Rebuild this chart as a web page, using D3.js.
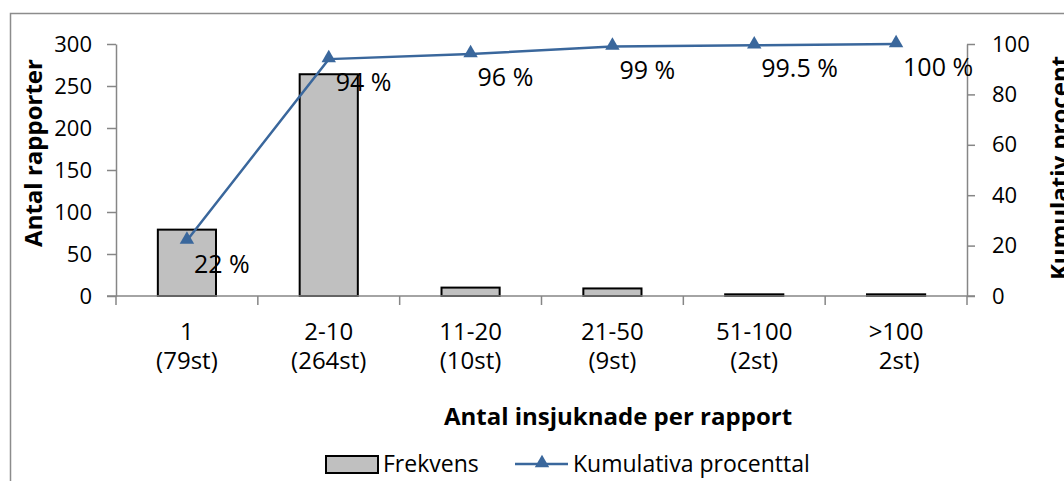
<!DOCTYPE html>
<html lang="sv">
<head>
<meta charset="utf-8">
<script src="https://cdnjs.cloudflare.com/ajax/libs/d3/7.8.5/d3.min.js"></script>
<style>
    body { margin: 0; background: #fff; }
    svg text { font-family: "Open Sans", Lato, sans-serif; fill: #000; }
    .axis path, .axis line { stroke: #868686; stroke-width: 1.5; }
    .axis text { font-size: 22px; }
    .title { font-size: 24px; font-weight: bold; }
</style>
</head>
<body>
<svg id="chart" width="1064" height="481"></svg>
<script>
// data
const categories = ["1|(79st)", "2-10|(264st)", "11-20|(10st)", "21-50|(9st)", "51-100|(2st)", ">100| 2st)"];
const frekvens = [79, 264, 10, 9, 2, 2];
const kumulativ = [22, 94, 96, 99, 99.5, 100];
const kumLabels = ["22 %", "94 %", "96 %", "99 %", "99.5 %", "100 %"];
const leftTicks = [0, 50, 100, 150, 200, 250, 300];
const rightTicks = [0, 20, 40, 60, 80, 100];

const svg = d3.select("#chart");
const margin = {left: 116, right: 97, top: 44, bottom: 185};
const W = 1064, H = 481;
const blue = "#3a679c";

// outer frame (clipped at the right and bottom like the original)
svg.append("path")
    .attr("d", "M10.5,481 V13.5 H1064")
    .attr("fill", "none")
    .attr("stroke", "#8c8c8c")
    .attr("stroke-width", 1.5);

const x = d3.scaleBand()
    .domain(categories)
    .range([margin.left, W - margin.right])
    .paddingInner(0.59)
    .paddingOuter(0.295);
const xStep = x.step();
const xc = d => x(d) + x.bandwidth() / 2;

const y = d3.scaleLinear().domain([0, 300]).range([H - margin.bottom, margin.top]);
const y2 = d3.scaleLinear().domain([0, 100]).range([H - margin.bottom, margin.top]);

// bars
svg.selectAll(".bar")
    .data(frekvens)
    .enter().append("rect")
    .attr("class", "bar")
    .attr("x", (d, i) => x(categories[i]))
    .attr("width", x.bandwidth())
    .attr("y", d => y(d))
    .attr("height", d => y(0) - y(d))
    .attr("fill", "#c0c0c0")
    .attr("stroke", "#000")
    .attr("stroke-width", 2);

// left axis
svg.append("g")
    .attr("class", "axis")
    .attr("transform", "translate(" + margin.left + ",0)")
    .call(d3.axisLeft(y).tickValues(leftTicks).tickSize(9).tickPadding(15).tickSizeOuter(0));

// right axis
svg.append("g")
    .attr("class", "axis")
    .attr("transform", "translate(" + (W - margin.right) + ",0)")
    .call(d3.axisRight(y2).tickValues(rightTicks).tickSize(8).tickPadding(17).tickSizeOuter(0));

// x axis: ticks sit between categories, two-line labels
const gx = svg.append("g")
    .attr("class", "axis")
    .attr("transform", "translate(0," + y(0) + ")");
gx.append("line")
    .attr("x1", margin.left - 9).attr("x2", W - margin.right + 8)
    .attr("y1", 0).attr("y2", 0);
const bounds = d3.range(categories.length + 1).map(i => margin.left + i * xStep);
gx.selectAll(".tk").data(bounds).enter().append("line")
    .attr("x1", d => d).attr("x2", d => d)
    .attr("y1", 0).attr("y2", 9);
categories.forEach(c => {
    c.split("|").forEach((p, i) => {
        gx.append("text")
            .attr("text-anchor", "middle")
            .attr("xml:space", "preserve")
            .attr("x", xc(c))
            .attr("y", 44 + i * 29)
            .style("font-size", "24px")
            .text(p);
    });
});

// line series
const pts = kumulativ.map((v, i) => [xc(categories[i]), y2(v)]);
svg.append("path")
    .datum(pts)
    .attr("fill", "none")
    .attr("stroke", blue)
    .attr("stroke-width", 2.5)
    .attr("d", d3.line());

const tri = d3.symbol().type(d3.symbolTriangle).size(90);
svg.selectAll(".mk").data(pts).enter().append("path")
    .attr("d", tri)
    .attr("transform", d => "translate(" + d[0] + "," + (d[1] - 1) + ")")
    .attr("fill", blue);

svg.selectAll(".vl").data(pts).enter().append("text")
    .attr("x", d => d[0] + 7)
    .attr("y", d => d[1] + 32)
    .style("font-size", "25px")
    .text((d, i) => kumLabels[i]);

// axis titles
svg.append("text").attr("class", "title")
    .attr("text-anchor", "middle")
    .attr("transform", "translate(42,153) rotate(-90)")
    .text("Antal rapporter");
svg.append("text").attr("class", "title")
    .attr("text-anchor", "middle")
    .attr("transform", "translate(1068,168) rotate(-90)")
    .text("Kumulativ procent");
svg.append("text").attr("class", "title")
    .attr("text-anchor", "middle")
    .attr("x", 618)
    .attr("y", 425)
    .text("Antal insjuknade per rapport");

// legend
const lg = svg.append("g").attr("transform", "translate(325,464)");
lg.append("rect").attr("x", 1).attr("y", -8).attr("width", 52).attr("height", 17)
    .attr("fill", "#c0c0c0").attr("stroke", "#000").attr("stroke-width", 2);
lg.append("text").attr("x", 58).attr("y", 8).style("font-size", "23px").text("Frekvens");
lg.append("line").attr("x1", 190).attr("x2", 243).attr("y1", 0).attr("y2", 0)
    .attr("stroke", blue).attr("stroke-width", 2.5);
lg.append("path").attr("d", tri).attr("transform", "translate(217,-1)").attr("fill", blue);
lg.append("text").attr("x", 248).attr("y", 8).style("font-size", "23px").text("Kumulativa procenttal");
</script>
</body>
</html>
